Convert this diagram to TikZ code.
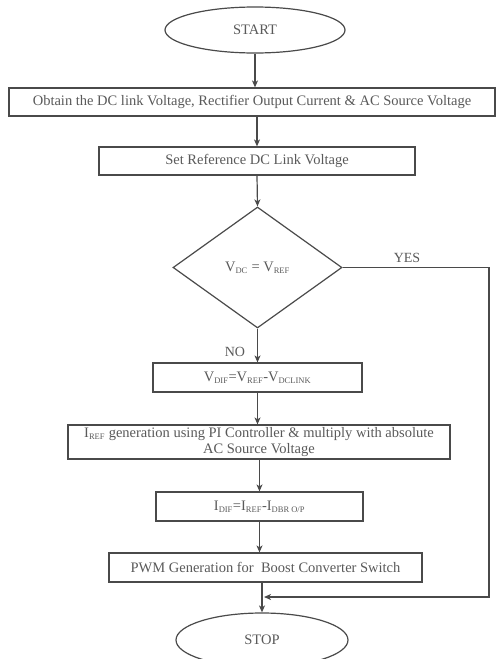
\documentclass[tikz,border=0pt]{standalone}
\usepackage{fontspec}
\setmainfont{Liberation Serif}
\usetikzlibrary{shapes.geometric,arrows.meta,calc}
\definecolor{ln}{HTML}{4A4A4A}
\definecolor{tx}{HTML}{5A5A5A}
\tikzset{
  every node/.style={text=tx,font=\fontsize{14.5}{16}\selectfont},
  boxn/.style={draw=ln,line width=1.2pt,rectangle,inner sep=0pt,align=center},
  term/.style={draw=ln,line width=1.2pt,ellipse,inner sep=0pt},
  dec/.style={draw=ln,line width=1.2pt,diamond,inner sep=0pt},
  flow/.style={draw=ln,line width=1.2pt,-{Stealth[length=7pt,width=6pt,inset=2pt]}},
  lab/.style={font=\fontsize{14}{16}\selectfont}
}
\newcommand{\sbs}[1]{\textsubscript{\fontsize{8.5}{9}\selectfont #1}}
\begin{document}
\begin{tikzpicture}[x=1pt,y=-1pt]
\useasboundingbox (0,0) rectangle (500,659);
\clip (0,0) rectangle (500,659);
\fill[white] (0,0) rectangle (500,659);
\node[term,minimum width=180pt,minimum height=46pt] (start) at (255,30) {START};
\node[boxn,minimum width=486pt,minimum height=28pt] (b1) at (252,102) {Obtain the DC link Voltage, Rectifier Output Current \& AC Source Voltage};
\node[boxn,minimum width=316pt,minimum height=28pt] (b2) at (257,161) {Set Reference DC Link Voltage};
\node[dec,minimum width=169pt,minimum height=121pt] (dia) at (257.5,267.5) {V\sbs{DC} = V\sbs{REF}};
\node[boxn,minimum width=209pt,minimum height=29pt] (b3) at (257.5,377.5) {V\sbs{DIF}=V\sbs{REF}-V\sbs{DCLINK}};
\node[boxn,minimum width=382pt,minimum height=34pt,font=\fontsize{14.5}{16}\selectfont] (b4) at (259,442) {I\sbs{REF} generation using PI Controller \& multiply with absolute\\AC Source Voltage};
\node[boxn,minimum width=207pt,minimum height=29pt] (b5) at (259.5,506.5) {I\sbs{DIF}=I\sbs{REF}-I\sbs{DBR O/P}};
\node[boxn,minimum width=313pt,minimum height=29pt] (b6) at (265.5,567.5) {PWM Generation for\ \ Boost Converter Switch};
\node[term,minimum width=172pt,minimum height=54pt] (stop) at (262,640) {STOP};
\coordinate (corner) at (489,597);
\node[lab] (yes) at (407,258) {YES};
\node[lab] (no) at (235,352) {NO};
\draw[flow] (start.south) -- (start.south |- b1.north);
\draw[flow] (b2.north |- b1.south) -- (b2.north);
\draw[flow] (b2.south) -- (dia.north);
\draw[flow] (dia.south) -- (b3.north);
\draw[flow] (b3.south) -- (b3.south |- b4.north);
\draw[flow] (b5.north |- b4.south) -- (b5.north);
\draw[flow] (b5.south) -- (b5.south |- b6.north);
\draw[flow] (b6.south -| stop.north) -- (stop.north);
\draw[flow,shorten >=2pt] (dia.east) -| (corner) -- (corner -| stop.north);
\end{tikzpicture}
\end{document}
